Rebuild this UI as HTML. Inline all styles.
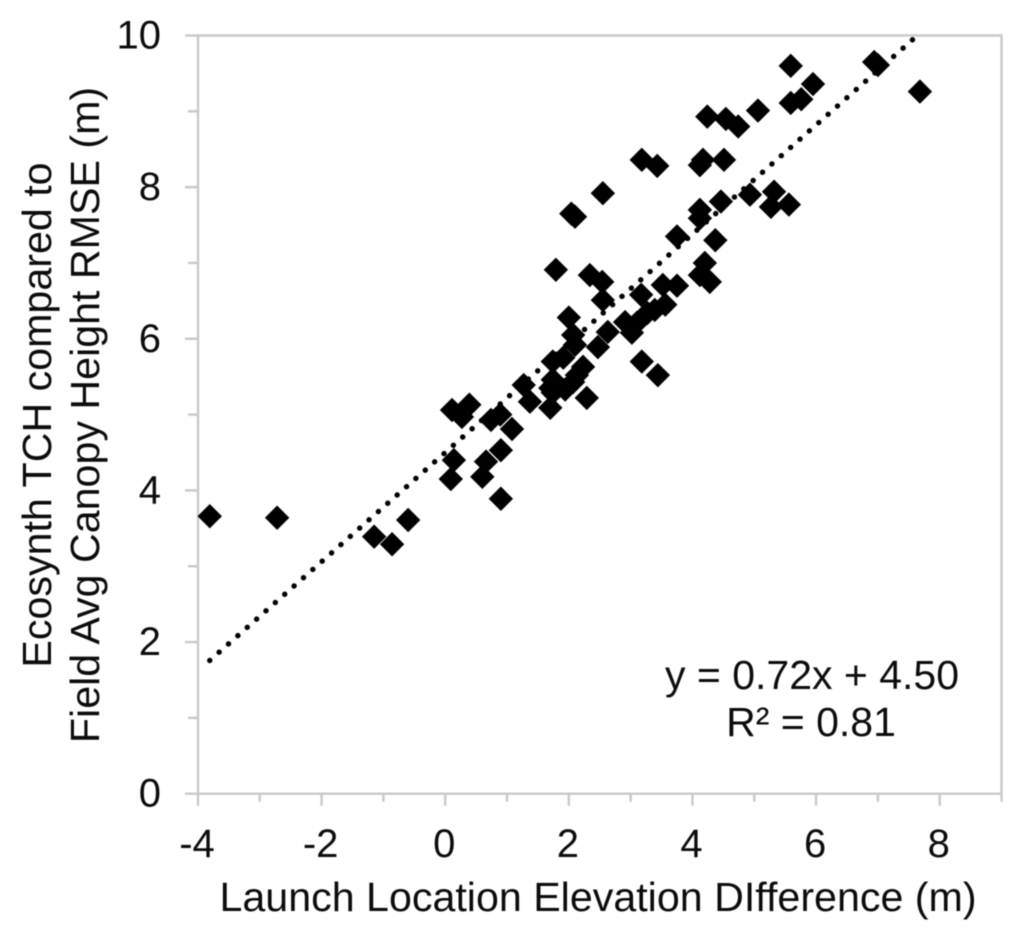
<!DOCTYPE html>
<html>
<head>
<meta charset="utf-8">
<title>Launch location elevation difference scatter</title>
<style>
html,body{margin:0;padding:0;background:#fff;}
#wrap{width:1024px;height:936px;overflow:hidden;position:relative;}
svg{display:block;filter:blur(0.45px);}
text{font-family:"Liberation Sans",sans-serif;fill:#0c0c0c;}
</style>
</head>
<body>
<div id="wrap">
<svg id="chart" width="1024" height="936" viewBox="0 0 1024 936">
  <g id="axes"></g>
  <g id="trend"></g>
  <g id="points"></g>
  <g id="labels"></g>
  <text x="598" y="911" text-anchor="middle" font-size="41.2">Launch Location Elevation DIfference (m)</text>
  <text transform="translate(51,415) rotate(-90)" text-anchor="middle" font-size="41.2">Ecosynth TCH compared to</text>
  <text transform="translate(99,415) rotate(-90)" text-anchor="middle" font-size="41.2">Field Avg Canopy Height RMSE (m)</text>
  <text x="812" y="689" text-anchor="middle" font-size="41">y = 0.72x + 4.50</text>
  <text x="811" y="736" text-anchor="middle" font-size="41">R² = 0.81</text>
</svg>
</div>
<script>
const xValues = [-3.81,-2.72,-1.15,-0.86,-0.60,0.09,0.14,0.11,0.27,0.39,0.60,0.66,0.74,0.89,0.90,0.90,1.08,1.27,1.37,1.70,1.74,1.70,1.74,1.74,1.79,1.91,1.94,2.07,2.13,2.23,2.29,2.00,2.07,2.10,2.04,2.10,2.55,2.34,2.54,2.55,2.47,2.63,2.91,3.02,3.10,3.17,3.27,3.39,3.56,3.18,3.43,3.18,3.44,3.52,3.75,3.75,4.12,4.20,4.28,4.37,4.12,4.12,4.46,4.12,4.17,4.51,4.24,4.54,4.74,5.06,4.93,5.32,5.27,5.56,5.59,5.59,5.76,5.95,6.94,7.00,7.68];
const yValues = [3.66,3.64,3.39,3.29,3.61,4.15,4.40,5.06,4.97,5.13,4.18,4.38,4.93,5.00,4.53,3.89,4.81,5.39,5.17,5.09,5.29,5.35,5.46,5.70,6.91,5.75,5.33,5.43,5.52,5.63,5.22,6.28,6.05,5.92,7.65,7.61,7.92,6.84,6.75,6.51,5.89,6.09,6.22,6.08,6.21,6.58,6.34,6.38,6.45,8.36,8.28,5.70,5.52,6.71,6.70,7.35,6.84,7.00,6.75,7.30,7.59,7.70,7.81,8.29,8.36,8.36,8.93,8.90,8.80,9.01,7.90,7.94,7.74,7.77,9.60,9.11,9.16,9.36,9.65,9.61,9.26];
const xTickLabels = [-4,-2,0,2,4,6,8];
const yTickLabels = [0,2,4,6,8,10];
const xMinorTicks = [-3,-1,1,3,5,7,9];
const yMinorTicks = [1,3,5,7,9];
const trendSlope = 0.72;
const trendIntercept = 4.50;
const trendXStart = -3.81;
const trendXEnd = 7.64;

const NS = 'http://www.w3.org/2000/svg';
const plotLeft = 198, plotRight = 1001.5, plotTop = 35.5, plotBottom = 793.7;
const xMin = -4, xMax = 9, yMin = 0, yMax = 10;
function xScale(v){ return plotLeft + (v - xMin) / (xMax - xMin) * (plotRight - plotLeft); }
function yScale(v){ return plotBottom - (v - yMin) / (yMax - yMin) * (plotBottom - plotTop); }
function makeLine(parent, x1, y1, x2, y2){
  const l = document.createElementNS(NS, 'line');
  l.setAttribute('x1', x1);
  l.setAttribute('y1', y1);
  l.setAttribute('x2', x2);
  l.setAttribute('y2', y2);
  l.setAttribute('stroke', '#c9c9c9');
  l.setAttribute('stroke-width', '2.4');
  parent.appendChild(l);
  return l;
}
const axes = document.getElementById('axes');
const labels = document.getElementById('labels');
const points = document.getElementById('points');
const trend = document.getElementById('trend');

const frameTop = makeLine(axes, plotLeft, plotTop, plotRight + 1, plotTop);


const frameRight = makeLine(axes, plotRight, plotTop, plotRight, plotBottom);


const xAxisLine = makeLine(axes, plotLeft, plotBottom, plotRight + 1, plotBottom);


const yAxisLine = makeLine(axes, plotLeft, plotTop, plotLeft, plotBottom);



xTickLabels.forEach(function(v){
  const t = makeLine(axes, xScale(v), plotBottom, xScale(v), plotBottom + 12);
  
  
  const s = document.createElementNS(NS, 'text');
  s.setAttribute('x', xScale(v) - 1);
  s.setAttribute('y', 857);
  s.setAttribute('text-anchor', 'middle');
  s.setAttribute('font-size', '40');
  
  
  s.textContent = String(v);
  labels.appendChild(s);
});
xMinorTicks.forEach(function(v){
  const t = makeLine(axes, xScale(v), plotBottom, xScale(v), plotBottom + 8);
  
  
});
yTickLabels.forEach(function(v){
  const t = makeLine(axes, plotLeft - 13, yScale(v), plotLeft, yScale(v));
  
  
  const s = document.createElementNS(NS, 'text');
  s.setAttribute('x', 161);
  s.setAttribute('y', yScale(v) + 13);
  s.setAttribute('text-anchor', 'end');
  s.setAttribute('font-size', '40');
  
  
  s.textContent = String(v);
  labels.appendChild(s);
});
yMinorTicks.forEach(function(v){
  const t = makeLine(axes, plotLeft - 10, yScale(v), plotLeft, yScale(v));
  
  
});

const trendLine = document.createElementNS(NS, 'line');
trendLine.setAttribute('x1', xScale(trendXStart));
trendLine.setAttribute('y1', yScale(trendSlope * trendXStart + trendIntercept));
trendLine.setAttribute('x2', xScale(trendXEnd));
trendLine.setAttribute('y2', yScale(trendSlope * trendXEnd + trendIntercept));
trendLine.setAttribute('stroke', '#000');
trendLine.setAttribute('stroke-width', '5.4');
trendLine.setAttribute('stroke-linecap', 'round');
trendLine.setAttribute('stroke-dasharray', '0.1 12.4');


trend.appendChild(trendLine);

const markerHalf = 12.2;
xValues.forEach(function(v, i){
  const cx = xScale(v), cy = yScale(yValues[i]);
  const p = document.createElementNS(NS, 'polygon');
  p.setAttribute('points', cx + ',' + (cy - markerHalf) + ' ' + (cx + markerHalf) + ',' + cy + ' ' + cx + ',' + (cy + markerHalf) + ' ' + (cx - markerHalf) + ',' + cy);
  p.setAttribute('fill', '#000');
  
  
  points.appendChild(p);
});
</script>
</body>
</html>
